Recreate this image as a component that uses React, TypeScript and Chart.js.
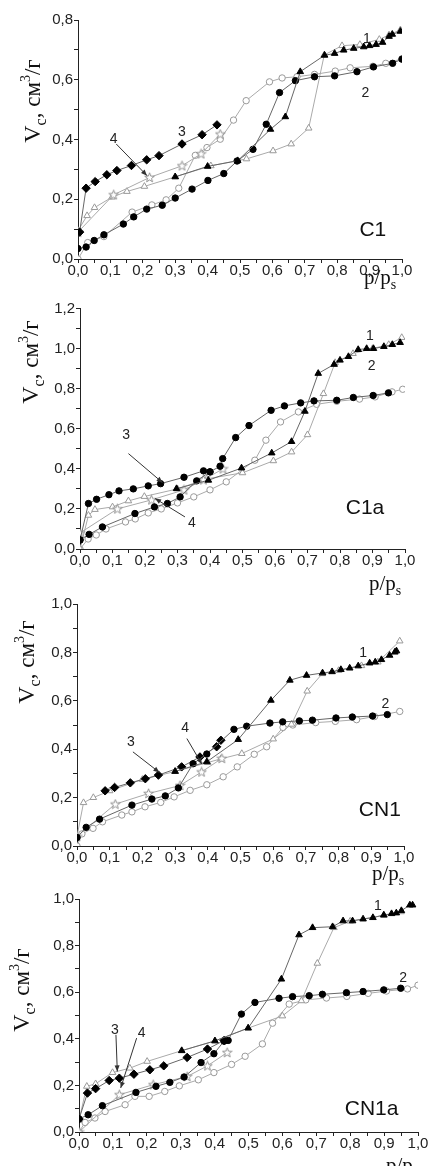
import React, { useEffect, useRef } from 'react';
import { Chart, registerables } from 'chart.js';
Chart.register(...registerables);

type P = [number, number][];

// ---------- Panel C1 ----------
const c1Ads1: P = [[0.30,0.275],[0.40,0.31],[0.493,0.329],[0.594,0.434],[0.640,0.476],[0.686,0.627],[0.761,0.682],[0.792,0.688],[0.820,0.699],[0.851,0.705],[0.882,0.71],[0.90,0.714],[0.92,0.718],[0.94,0.725],[0.96,0.745],[0.97,0.752],[0.995,0.762]];
const c1Des1: P = [[0.0,0.095],[0.028,0.145],[0.051,0.172],[0.105,0.207],[0.151,0.226],[0.205,0.243],[0.30,0.275],[0.41,0.312],[0.52,0.335],[0.602,0.362],[0.658,0.385],[0.712,0.438],[0.76,0.683],[0.815,0.714],[0.87,0.718],[0.93,0.735],[0.96,0.75],[0.995,0.767]];
const c1Ads2: P = [[0.0,0.035],[0.025,0.04],[0.05,0.062],[0.08,0.081],[0.14,0.117],[0.172,0.141],[0.212,0.167],[0.26,0.18],[0.30,0.204],[0.352,0.234],[0.401,0.263],[0.45,0.286],[0.491,0.328],[0.54,0.367],[0.581,0.451],[0.622,0.557],[0.671,0.597],[0.73,0.61],[0.792,0.613],[0.861,0.627],[0.912,0.643],[0.971,0.655],[1.0,0.669]];
const c1Des2: P = [[0.0,0.0],[0.03,0.055],[0.08,0.075],[0.167,0.157],[0.228,0.181],[0.272,0.198],[0.311,0.237],[0.362,0.347],[0.398,0.373],[0.439,0.401],[0.48,0.465],[0.519,0.53],[0.591,0.593],[0.63,0.606],[0.676,0.61],[0.73,0.618],[0.794,0.629],[0.84,0.64],[0.91,0.645],[0.95,0.655],[1.0,0.67]];
const c1Ads3: P = [[0.005,0.09],[0.025,0.237],[0.053,0.259],[0.089,0.282],[0.12,0.296],[0.165,0.313],[0.212,0.332],[0.25,0.346],[0.321,0.385],[0.383,0.416],[0.429,0.449]];
const c1Ser4: P = [[0.0,0.09],[0.11,0.215],[0.221,0.273],[0.321,0.312],[0.38,0.352],[0.439,0.418]];

// ---------- Panel C1a ----------
const c1aAds1: P = [[0.297,0.301],[0.395,0.343],[0.497,0.404],[0.59,0.479],[0.651,0.536],[0.692,0.687],[0.733,0.876],[0.782,0.921],[0.80,0.942],[0.826,0.96],[0.856,0.995],[0.882,1.0],[0.903,1.0],[0.935,1.01],[0.961,1.02],[0.985,1.03]];
const c1aDes1: P = [[0.0,0.0],[0.026,0.168],[0.046,0.197],[0.10,0.21],[0.149,0.24],[0.198,0.262],[0.30,0.30],[0.39,0.35],[0.50,0.38],[0.595,0.44],[0.651,0.484],[0.70,0.57],[0.749,0.775],[0.785,0.93],[0.84,0.975],[0.90,1.0],[0.95,1.02],[0.99,1.055]];
const c1aAds2: P = [[0.0,0.045],[0.028,0.073],[0.069,0.11],[0.169,0.177],[0.229,0.21],[0.269,0.227],[0.308,0.26],[0.359,0.34],[0.40,0.385],[0.431,0.413],[0.439,0.451],[0.479,0.556],[0.52,0.616],[0.588,0.692],[0.629,0.714],[0.679,0.729],[0.72,0.739],[0.79,0.742],[0.841,0.756],[0.902,0.766],[0.949,0.779]];
const c1aDes2: P = [[0.0,0.0],[0.025,0.05],[0.05,0.07],[0.08,0.1],[0.14,0.135],[0.17,0.15],[0.21,0.18],[0.25,0.2],[0.3,0.23],[0.35,0.26],[0.4,0.295],[0.45,0.335],[0.538,0.443],[0.572,0.543],[0.617,0.634],[0.672,0.684],[0.728,0.722],[0.79,0.737],[0.86,0.748],[0.908,0.759],[0.96,0.784],[0.993,0.797]];
const c1aAds3: P = [[0.0,0.045],[0.026,0.227],[0.051,0.248],[0.089,0.271],[0.12,0.29],[0.164,0.30],[0.21,0.315],[0.248,0.326],[0.32,0.358],[0.38,0.39],[0.40,0.385]];
const c1aSer4: P = [[0.0,0.08],[0.115,0.2],[0.22,0.245],[0.32,0.295],[0.38,0.345],[0.44,0.4]];

// ---------- Panel CN1 ----------
const cn1Ads1: P = [[0.30,0.308],[0.397,0.348],[0.493,0.44],[0.593,0.602],[0.651,0.685],[0.702,0.705],[0.751,0.715],[0.78,0.72],[0.807,0.729],[0.834,0.735],[0.86,0.744],[0.895,0.756],[0.912,0.76],[0.931,0.77],[0.956,0.788],[0.972,0.801],[0.977,0.806]];
const cn1Des1: P = [[0.0,0.04],[0.02,0.179],[0.05,0.2],[0.10,0.228],[0.2,0.275],[0.3,0.308],[0.4,0.345],[0.44,0.36],[0.504,0.382],[0.6,0.442],[0.656,0.503],[0.704,0.64],[0.75,0.712],[0.8,0.725],[0.87,0.745],[0.92,0.76],[0.987,0.847]];
const cn1Ads2: P = [[0.0,0.035],[0.028,0.077],[0.069,0.111],[0.168,0.169],[0.229,0.194],[0.27,0.207],[0.31,0.24],[0.355,0.34],[0.397,0.38],[0.48,0.482],[0.519,0.495],[0.59,0.508],[0.629,0.513],[0.68,0.517],[0.72,0.52],[0.792,0.529],[0.842,0.533],[0.904,0.537],[0.949,0.543]];
const cn1Des2: P = [[0.0,0.0],[0.015,0.05],[0.049,0.073],[0.078,0.1],[0.137,0.128],[0.168,0.141],[0.208,0.162],[0.256,0.18],[0.297,0.203],[0.346,0.23],[0.397,0.253],[0.447,0.286],[0.49,0.327],[0.542,0.379],[0.58,0.41],[0.63,0.49],[0.66,0.50],[0.73,0.51],[0.79,0.515],[0.855,0.522],[0.91,0.535],[0.987,0.556]];
const cn1Ads3: P = [[0.086,0.228],[0.115,0.242],[0.163,0.261],[0.209,0.278],[0.249,0.293],[0.32,0.327],[0.376,0.368],[0.427,0.41],[0.44,0.437]];
const cn1Ser4: P = [[0.0,0.04],[0.117,0.173],[0.219,0.217],[0.315,0.25],[0.381,0.306],[0.443,0.362]];

// ---------- Panel CN1a ----------
const cn1aAds1: P = [[0.303,0.349],[0.401,0.391],[0.499,0.446],[0.597,0.656],[0.649,0.846],[0.689,0.877],[0.748,0.881],[0.779,0.906],[0.807,0.906],[0.838,0.914],[0.867,0.92],[0.899,0.931],[0.922,0.937],[0.936,0.94],[0.951,0.95],[0.976,0.974],[0.984,0.974]];
const cn1aDes1: P = [[0.0,0.05],[0.023,0.196],[0.049,0.207],[0.099,0.255],[0.15,0.274],[0.201,0.303],[0.303,0.349],[0.401,0.391],[0.499,0.446],[0.6,0.498],[0.656,0.563],[0.703,0.724],[0.752,0.877],[0.8,0.905],[0.9,0.93],[0.95,0.945]];
const cn1aAds2: P = [[0.0,0.056],[0.027,0.074],[0.069,0.113],[0.168,0.17],[0.227,0.196],[0.268,0.213],[0.31,0.236],[0.36,0.298],[0.398,0.336],[0.428,0.39],[0.44,0.393],[0.479,0.506],[0.519,0.556],[0.59,0.574],[0.63,0.581],[0.679,0.585],[0.718,0.591],[0.789,0.598],[0.838,0.603],[0.899,0.61],[0.949,0.617]];
const cn1aDes2: P = [[0.0,0.0],[0.018,0.041],[0.047,0.06],[0.077,0.088],[0.136,0.117],[0.165,0.153],[0.207,0.153],[0.253,0.174],[0.296,0.198],[0.352,0.224],[0.398,0.255],[0.45,0.29],[0.49,0.325],[0.541,0.378],[0.571,0.467],[0.62,0.549],[0.669,0.567],[0.73,0.575],[0.79,0.582],[0.853,0.595],[0.907,0.605],[0.969,0.614],[1.0,0.63]];
const cn1aAds3: P = [[0.0,0.056],[0.025,0.167],[0.049,0.186],[0.089,0.221],[0.119,0.231],[0.162,0.248],[0.209,0.267],[0.25,0.284],[0.319,0.32],[0.379,0.356],[0.428,0.393]];
const cn1aSer4: P = [[0.0,0.0],[0.119,0.16],[0.219,0.203],[0.319,0.238],[0.379,0.284],[0.437,0.341]];

const FONT_SANS = '"Liberation Sans", Arial, sans-serif';
const FONT_SERIF = '"Liberation Serif", "Times New Roman", serif';
const W = 431;

type Kind = 'triF' | 'triO' | 'cirF' | 'cirO' | 'diaF' | 'star';
interface Lbl { text: string; x: number; y: number }
interface Arr { x1: number; y1: number; x2: number; y2: number }
interface Panel {
  tag: string; top: number; height: number;
  area: { left: number; right: number; top: number; bottom: number };
  yMax: number;
  series: { data: P; kind: Kind }[];
  labels: Lbl[]; arrows: Arr[];
  tagPos: { x: number; y: number };
  yTitle: { cx: number; cy: number };
  xTitle: { x: number; base: number };
}

const panels: Panel[] = [
  {
    tag: 'C1', top: 0, height: 300, area: { left: 78, right: 402, top: 20, bottom: 259 }, yMax: 0.8,
    series: [
      { data: c1Ads1, kind: 'triF' }, { data: c1Ads2, kind: 'cirF' }, { data: c1Ads3, kind: 'diaF' },
      { data: c1Ser4, kind: 'star' }, { data: c1Des1, kind: 'triO' }, { data: c1Des2, kind: 'cirO' },
    ],
    labels: [{ text: '1', x: 0.892, y: 0.735 }, { text: '2', x: 0.887, y: 0.555 }, { text: '3', x: 0.321, y: 0.426 }, { text: '4', x: 0.110, y: 0.401 }],
    arrows: [{ x1: 0.118, y1: 0.385, x2: 0.213, y2: 0.279 }],
    tagPos: { x: 0.91, y: 0.098 }, yTitle: { cx: 32, cy: 101 }, xTitle: { x: 364, base: 284 },
  },
  {
    tag: 'C1a', top: 300, height: 295, area: { left: 80, right: 405, top: 8, bottom: 249 }, yMax: 1.2,
    series: [
      { data: c1aAds1, kind: 'triF' }, { data: c1aAds2, kind: 'cirF' }, { data: c1aAds3, kind: 'cirF' },
      { data: c1aSer4, kind: 'star' }, { data: c1aDes1, kind: 'triO' }, { data: c1aDes2, kind: 'cirO' },
    ],
    labels: [{ text: '1', x: 0.892, y: 1.062 }, { text: '2', x: 0.897, y: 0.912 }, { text: '3', x: 0.142, y: 0.568 }, { text: '4', x: 0.344, y: 0.127 }],
    arrows: [{ x1: 0.149, y1: 0.476, x2: 0.254, y2: 0.331 }, { x1: 0.323, y1: 0.16, x2: 0.231, y2: 0.252 }],
    tagPos: { x: 0.877, y: 0.202 }, yTitle: { cx: 30, cy: 362 }, xTitle: { x: 369, base: 590 },
  },
  {
    tag: 'CN1', top: 595, height: 293, area: { left: 77, right: 404, top: 9, bottom: 251 }, yMax: 1.0,
    series: [
      { data: cn1Ads1, kind: 'triF' }, { data: cn1Ads2, kind: 'cirF' }, { data: cn1Ads3, kind: 'diaF' },
      { data: cn1Ser4, kind: 'star' }, { data: cn1Des1, kind: 'triO' }, { data: cn1Des2, kind: 'cirO' },
    ],
    labels: [{ text: '1', x: 0.875, y: 0.795 }, { text: '2', x: 0.943, y: 0.586 }, { text: '3', x: 0.165, y: 0.43 }, { text: '4', x: 0.331, y: 0.485 }],
    arrows: [{ x1: 0.171, y1: 0.389, x2: 0.252, y2: 0.304 }, { x1: 0.336, y1: 0.444, x2: 0.382, y2: 0.338 }],
    tagPos: { x: 0.926, y: 0.148 }, yTitle: { cx: 26, cy: 662 }, xTitle: { x: 372, base: 880 },
  },
  {
    tag: 'CN1a', top: 888, height: 278, area: { left: 79, right: 418, top: 11, bottom: 244 }, yMax: 1.0,
    series: [
      { data: cn1aAds1, kind: 'triF' }, { data: cn1aAds2, kind: 'cirF' }, { data: cn1aAds3, kind: 'diaF' },
      { data: cn1aSer4, kind: 'star' }, { data: cn1aDes1, kind: 'triO' }, { data: cn1aDes2, kind: 'cirO' },
    ],
    labels: [{ text: '1', x: 0.882, y: 0.97 }, { text: '2', x: 0.956, y: 0.66 }, { text: '3', x: 0.106, y: 0.438 }, { text: '4', x: 0.185, y: 0.424 }],
    arrows: [{ x1: 0.109, y1: 0.417, x2: 0.113, y2: 0.26 }, { x1: 0.17, y1: 0.403, x2: 0.123, y2: 0.189 }],
    tagPos: { x: 0.863, y: 0.096 }, yTitle: { cx: 21, cy: 990 }, xTitle: { x: 386, base: 1172 },
  },
];

function makeStar(): HTMLCanvasElement {
  const c = document.createElement('canvas');
  c.width = 11; c.height = 11;
  const g = c.getContext('2d')!;
  g.beginPath();
  for (let i = 0; i < 10; i++) {
    const r = i % 2 === 0 ? 5 : 2.1;
    const a = -Math.PI / 2 + (i * Math.PI) / 5;
    const px = 5.5 + r * Math.cos(a), py = 5.8 + r * Math.sin(a);
    if (i === 0) g.moveTo(px, py); else g.lineTo(px, py);
  }
  g.closePath();
  g.fillStyle = '#fff'; g.fill();
  g.strokeStyle = '#888'; g.lineWidth = 0.9; g.stroke();
  return c;
}

function styleFor(kind: Kind, star: HTMLCanvasElement) {
  const dark = '#666', light = '#aaa';
  switch (kind) {
    case 'triF': return { pointStyle: 'triangle', pointRadius: 3.8, pointBackgroundColor: '#000', pointBorderColor: '#000', borderColor: dark };
    case 'triO': return { pointStyle: 'triangle', pointRadius: 3.8, pointBackgroundColor: '#fff', pointBorderColor: '#999', borderColor: light };
    case 'cirF': return { pointStyle: 'circle', pointRadius: 3.2, pointBackgroundColor: '#000', pointBorderColor: '#000', borderColor: dark };
    case 'cirO': return { pointStyle: 'circle', pointRadius: 3.2, pointBackgroundColor: '#fff', pointBorderColor: '#999', borderColor: light };
    case 'diaF': return { pointStyle: 'rectRot', pointRadius: 4.2, pointBackgroundColor: '#000', pointBorderColor: '#000', borderColor: dark };
    default: return { pointStyle: star, pointRadius: 5, pointBackgroundColor: '#fff', pointBorderColor: '#888', borderColor: light };
  }
}

function drawYTitle(ctx: CanvasRenderingContext2D, cx: number, cy: number) {
  const parts = [
    { t: 'V', s: 24, dy: 0 }, { t: 'c', s: 16, dy: 6 }, { t: ', см', s: 23, dy: 0 },
    { t: '3', s: 14, dy: -10 }, { t: '/г', s: 23, dy: 0 },
  ];
  ctx.save();
  ctx.translate(cx, cy);
  ctx.rotate(-Math.PI / 2);
  let total = 0;
  for (const p of parts) { ctx.font = `${p.s}px ${FONT_SERIF}`; total += ctx.measureText(p.t).width; }
  let x = -total / 2;
  ctx.textBaseline = 'alphabetic';
  ctx.textAlign = 'left';
  ctx.fillStyle = '#111';
  for (const p of parts) {
    ctx.font = `${p.s}px ${FONT_SERIF}`;
    ctx.fillText(p.t, x, 8 + p.dy);
    x += ctx.measureText(p.t).width;
  }
  ctx.restore();
}

function drawXTitle(ctx: CanvasRenderingContext2D, x: number, base: number) {
  ctx.save();
  ctx.textBaseline = 'alphabetic';
  ctx.textAlign = 'left';
  ctx.fillStyle = '#111';
  ctx.font = `21px ${FONT_SERIF}`;
  ctx.fillText('p/p', x, base);
  const w = ctx.measureText('p/p').width;
  ctx.font = `14px ${FONT_SERIF}`;
  ctx.fillText('s', x + w, base + 5);
  ctx.restore();
}

function makePlugin(p: Panel) {
  return {
    id: 'decor' + p.tag,
    afterDraw(chart: any) {
      const ctx: CanvasRenderingContext2D = chart.ctx;
      const xs = chart.scales.x, ys = chart.scales.y;
      ctx.save();
      ctx.font = `14px ${FONT_SANS}`;
      ctx.fillStyle = '#222';
      ctx.textAlign = 'center';
      ctx.textBaseline = 'middle';
      for (const l of p.labels) ctx.fillText(l.text, xs.getPixelForValue(l.x), ys.getPixelForValue(l.y));
      ctx.strokeStyle = '#333';
      ctx.fillStyle = '#333';
      ctx.lineWidth = 1;
      for (const a of p.arrows) {
        const x1 = xs.getPixelForValue(a.x1), y1 = ys.getPixelForValue(a.y1);
        const x2 = xs.getPixelForValue(a.x2), y2 = ys.getPixelForValue(a.y2);
        ctx.beginPath(); ctx.moveTo(x1, y1); ctx.lineTo(x2, y2); ctx.stroke();
        const ang = Math.atan2(y2 - y1, x2 - x1);
        const L = 6, Wd = 2.5;
        ctx.beginPath();
        ctx.moveTo(x2, y2);
        ctx.lineTo(x2 - L * Math.cos(ang) + Wd * Math.sin(ang), y2 - L * Math.sin(ang) - Wd * Math.cos(ang));
        ctx.lineTo(x2 - L * Math.cos(ang) - Wd * Math.sin(ang), y2 - L * Math.sin(ang) + Wd * Math.cos(ang));
        ctx.closePath(); ctx.fill();
      }
      ctx.font = `21px ${FONT_SANS}`;
      ctx.fillStyle = '#111';
      ctx.fillText(p.tag, xs.getPixelForValue(p.tagPos.x), ys.getPixelForValue(p.tagPos.y));
      ctx.restore();
      drawYTitle(ctx, p.yTitle.cx, p.yTitle.cy - p.top);
      drawXTitle(ctx, p.xTitle.x, p.xTitle.base - p.top);
    },
  };
}

function fmt(v: number) { return v.toFixed(1).replace('.', ','); }

export default function App() {
  const refs = useRef<(HTMLCanvasElement | null)[]>([]);
  useEffect(() => {
    const star = makeStar();
    const charts: Chart[] = [];
    panels.forEach((p, i) => {
      const cv = refs.current[i];
      if (!cv) return;
      const datasets = p.series.map((s) => ({
        data: s.data.map(([x, y]) => ({ x, y })),
        borderWidth: 1,
        pointBorderWidth: 1,
        tension: 0,
        fill: false,
        ...styleFor(s.kind, star),
      }));
      const tickFont = { family: FONT_SANS, size: 15, lineHeight: 1 };
      const ch = new Chart(cv, {
        type: 'line',
        data: { datasets } as any,
        options: {
          responsive: false,
          maintainAspectRatio: false,
          animation: false,
          devicePixelRatio: 1,
          layout: { padding: { top: p.area.top, right: W - p.area.right, left: 0, bottom: 0 } },
          plugins: { legend: { display: false }, tooltip: { enabled: false }, title: { display: false } },
          scales: {
            x: {
              type: 'linear', min: 0, max: 1,
              afterFit: (s: any) => { s.height = p.height - p.area.bottom; },
              ticks: {
                stepSize: 0.05, autoSkip: false, maxRotation: 0, minRotation: 0, padding: 0,
                font: tickFont, color: '#222',
                callback: (v: any) => { const r = Math.round(Number(v) * 100); return r % 10 === 0 ? fmt(r / 100) : ''; },
              },
              grid: { drawOnChartArea: false, drawTicks: true, tickLength: 4, tickColor: '#222', color: '#222' },
              border: { display: true, color: '#222', width: 1 },
            },
            y: {
              type: 'linear', min: 0, max: p.yMax,
              afterFit: (s: any) => { s.width = p.area.left; },
              ticks: {
                stepSize: 0.1, autoSkip: false, padding: 1,
                font: tickFont, color: '#222',
                callback: (v: any) => { const r = Math.round(Number(v) * 10); return r % 2 === 0 ? fmt(r / 10) : ''; },
              },
              grid: { drawOnChartArea: false, drawTicks: true, tickLength: 4, tickColor: '#222', color: '#222' },
              border: { display: true, color: '#222', width: 1 },
            },
          },
        } as any,
        plugins: [makePlugin(p)],
      });
      charts.push(ch);
    });
    return () => { charts.forEach((c) => c.destroy()); };
  }, []);

  return (
    <div style={{ position: 'absolute', left: 0, top: 0, width: W, height: 1166, background: '#fff', overflow: 'hidden' }}>
      {panels.map((p, i) => (
        <canvas
          key={p.tag}
          ref={(el) => { refs.current[i] = el; }}
          width={W}
          height={p.height}
          style={{ position: 'absolute', left: 0, top: p.top, width: W, height: p.height }}
        />
      ))}
    </div>
  );
}
